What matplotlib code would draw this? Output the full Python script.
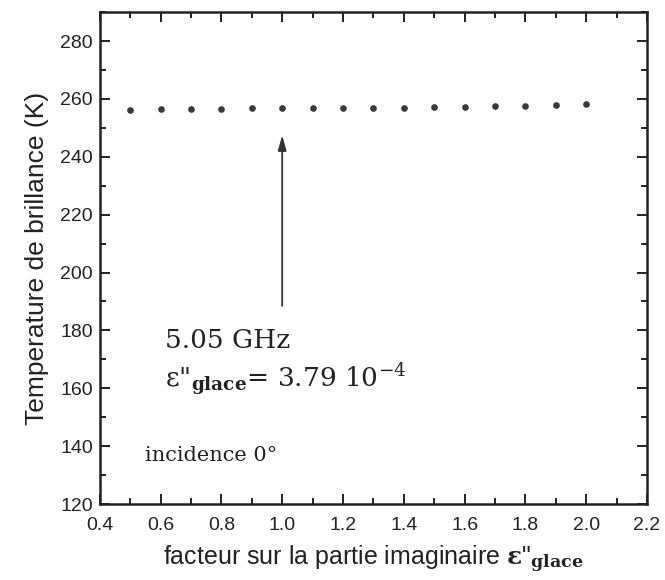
import matplotlib

matplotlib.use("Agg")
import matplotlib.pyplot as plt
from matplotlib.ticker import MultipleLocator

# facteur multiplicatif sur eps'' et temperature de brillance
facteur = [0.5, 0.6, 0.7, 0.8, 0.9, 1.0, 1.1, 1.2, 1.3, 1.4, 1.5, 1.6, 1.7, 1.8, 1.9, 2.0]
tb = [256.3, 256.5, 256.6, 256.7, 256.8, 257.0, 257.0, 256.9,
      257.0, 257.0, 257.2, 257.3, 257.5, 257.7, 258.0, 258.4]

x_ticks = [0.4, 0.6, 0.8, 1.0, 1.2, 1.4, 1.6, 1.8, 2.0, 2.2]
y_ticks = [120, 140, 160, 180, 200, 220, 240, 260, 280]

ink = "#222222"
plt.rcParams["font.family"] = ["Liberation Sans", "DejaVu Sans"]
plt.rcParams["mathtext.fontset"] = "dejavuserif"

fig = plt.figure(figsize=(6.65, 5.8), dpi=100)
ax = fig.add_axes([0.150, 0.131, 0.823, 0.848])

ax.plot(facteur, tb, "o", color="#3a3a3a", markersize=4.8, markeredgewidth=0)

ax.set_xlim(0.4, 2.2)
ax.set_ylim(120, 290)
ax.set_xticks(x_ticks)
ax.set_xticklabels([f"{v:.1f}" for v in x_ticks])
ax.set_yticks(y_ticks)
ax.xaxis.set_minor_locator(MultipleLocator(0.1))
ax.yaxis.set_minor_locator(MultipleLocator(10))
ax.tick_params(which="both", direction="in", top=True, right=True,
               colors=ink, labelsize=14, width=1.4)
ax.tick_params(which="major", length=7)
ax.tick_params(which="minor", length=4)
ax.tick_params(axis="x", which="major", pad=9)
ax.tick_params(axis="y", which="major", pad=5)
for spine in ax.spines.values():
    spine.set_linewidth(1.8)
    spine.set_color(ink)

ax.set_ylabel("Temperature de brillance (K)", fontsize=19, color=ink, labelpad=8)
ax.set_xlabel(r'facteur sur la partie imaginaire $\mathbf{ε}$"$_{\mathbf{glace}}$',
              fontsize=18, color=ink, labelpad=7)

ax.annotate("", xy=(1.0, 247.5), xytext=(1.0, 188.5),
            arrowprops=dict(arrowstyle="-|>,head_width=0.25,head_length=0.9",
                            color="#333333", lw=1.3, shrinkA=0, shrinkB=0))

ax.text(0.613, 176.4, "5.05 GHz", family="DejaVu Serif", fontsize=19,
        color=ink, va="center", ha="left")
ax.text(0.613, 163.0, r'ε"$_{\mathbf{glace}}$= 3.79 10$^{-4}$',
        family="DejaVu Serif", fontsize=19, color=ink, va="center", ha="left")
ax.text(0.548, 136.6, "incidence 0°", family="DejaVu Serif", fontsize=15,
        color=ink, va="center", ha="left")

fig.savefig("out.png", dpi=100)
